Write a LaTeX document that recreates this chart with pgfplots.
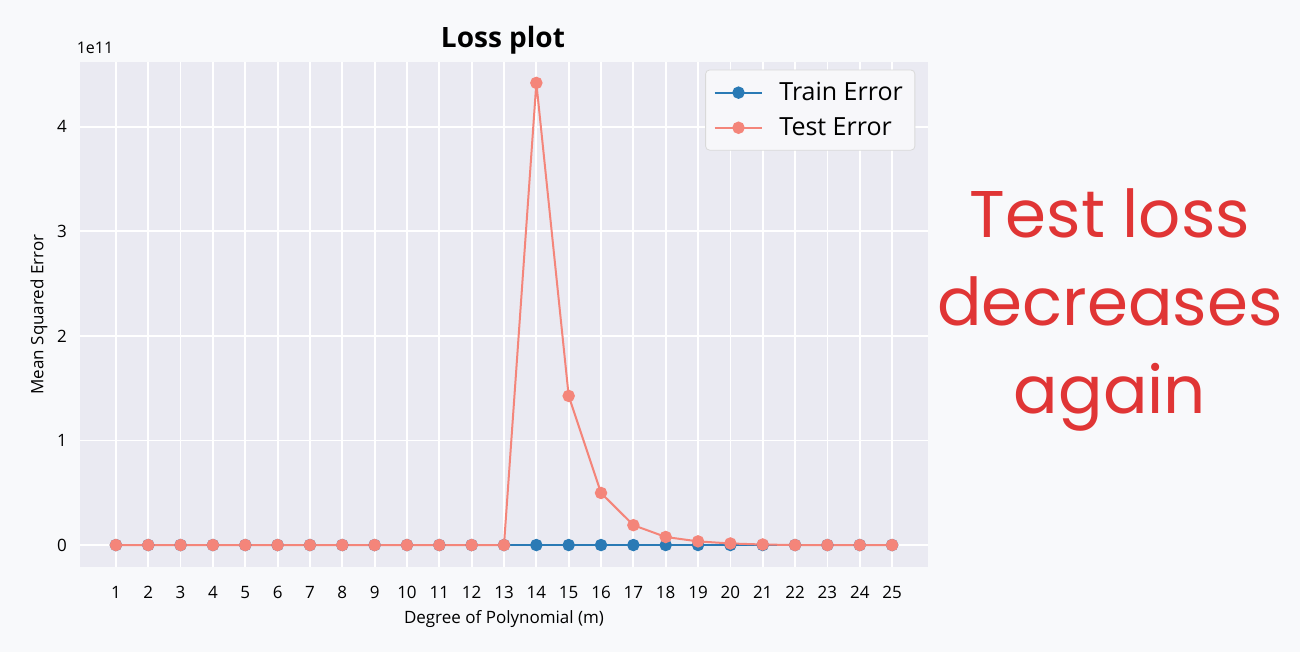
\documentclass[border=0pt]{standalone}
\usepackage{fontspec}
\setmainfont{Open Sans}
\newfontfamily\handfont{Poppins}
\usepackage{pgfplots}
\pgfplotsset{compat=1.18}
\definecolor{bg}{HTML}{F8F9FB}
\definecolor{plotbg}{HTML}{EAEAF2}
\definecolor{trainc}{HTML}{2A7AB5}
\definecolor{testc}{HTML}{F4857A}
\definecolor{annot}{HTML}{E03535}
\begin{document}
\begin{tikzpicture}
\useasboundingbox (0pt,0pt) rectangle (650pt,326pt);
\fill[bg] (0pt,0pt) rectangle (650pt,326pt);
\begin{axis}[at={(40pt,42.5pt)}, anchor=south west, scale only axis,
  width=424pt, height=252.5pt,
  xmin=-0.11, xmax=26.11, ymin=-0.21, ymax=4.62,
  axis background/.style={fill=plotbg},
  axis line style={draw=none},
  grid=major, major grid style={white, line width=0.9pt},
  tick style={draw=none},
  xtick={1,...,25}, ytick={0,1,2,3,4},
  tick label style={font=\fontsize{8.5}{10}\selectfont},
  /pgf/number format/assume math mode=true,
  xticklabel style={yshift=-6pt},
  yticklabel style={xshift=-3pt},
  xlabel={Degree of Polynomial (m)},
  ylabel={Mean Squared Error},
  label style={font=\fontsize{8.5}{10}\selectfont},
  xlabel style={yshift=1pt},
  ylabel style={yshift=-2pt},
  legend image code/.code={\draw[mark repeat=2,mark phase=2] plot coordinates {(0cm,0cm) (0.42cm,0cm) (0.84cm,0cm)};},
  legend style={at={(0.985,0.985)}, anchor=north east, fill=plotbg!40!white,
    draw=black!15, rounded corners=2pt, font=\fontsize{12.5}{14}\selectfont,
    cells={anchor=west}, row sep=3pt, inner xsep=4pt, inner ysep=4pt,
    /tikz/every odd column/.append style={column sep=6pt}},
]
\addplot[trainc, line width=1pt, mark=*, mark size=2.6pt, mark options={fill=trainc, draw=trainc}] coordinates {
(1,0) (2,0) (3,0) (4,0) (5,0) (6,0) (7,0) (8,0) (9,0) (10,0) (11,0) (12,0) (13,0)
(14,0) (15,0) (16,0) (17,0) (18,0) (19,0) (20,0) (21,0) (22,0) (23,0) (24,0) (25,0)};
\addlegendentry{Train Error}
\addplot[testc, line width=1pt, mark=*, mark size=2.6pt, mark options={fill=testc, draw=testc}] coordinates {
(1,0) (2,0) (3,0) (4,0) (5,0) (6,0) (7,0) (8,0) (9,0) (10,0) (11,0) (12,0) (13,0)
(14,4.42) (15,1.426) (16,0.498) (17,0.19) (18,0.077) (19,0.035) (20,0.015) (21,0.005)
(22,0) (23,0) (24,0) (25,0)};
\addlegendentry{Test Error}
\end{axis}
\node[font=\bfseries\fontsize{14}{16}\selectfont] at (251.5pt,306pt) {Loss plot};
\node[font=\fontsize{8}{9}\selectfont] at (47.5pt,302pt) {1e11};
\node[annot, font=\handfont\fontsize{33}{44}\selectfont, align=center] at (555pt,171pt) {Test loss\\decreases\\again};
\end{tikzpicture}
\end{document}
